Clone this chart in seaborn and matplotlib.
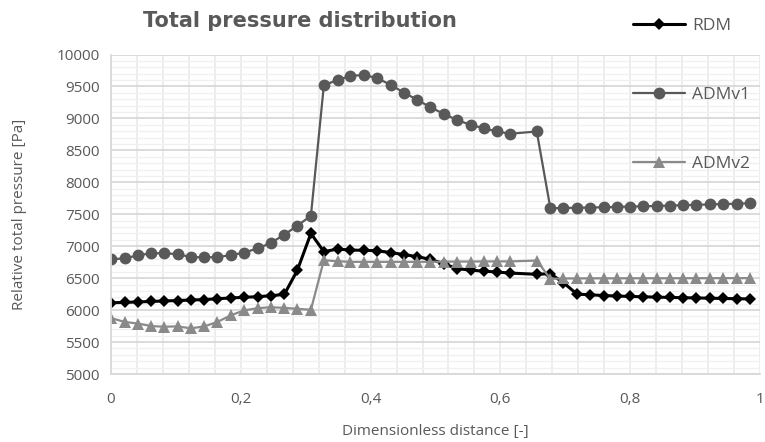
import numpy as np
import pandas as pd
import matplotlib
matplotlib.use("Agg")
import matplotlib.pyplot as plt
import seaborn as sns

# ---- data ----
x = [0.000, 0.021, 0.041, 0.062, 0.082, 0.103, 0.123, 0.144, 0.164, 0.185,
     0.205, 0.226, 0.246, 0.267, 0.287, 0.308, 0.328, 0.349, 0.369, 0.390,
     0.410, 0.431, 0.451, 0.472, 0.492, 0.513, 0.533, 0.554, 0.574, 0.595,
     0.615, 0.656, 0.677, 0.697, 0.718, 0.738, 0.759, 0.779, 0.800, 0.820,
     0.841, 0.861, 0.882, 0.902, 0.923, 0.943, 0.964, 0.984]

rdm = [6115, 6120, 6128, 6135, 6143, 6150, 6157, 6165, 6178, 6190,
       6200, 6210, 6225, 6245, 6620, 7200, 6915, 6955, 6940, 6935,
       6930, 6900, 6870, 6835, 6795, 6725, 6650, 6625, 6610, 6595,
       6580, 6560, 6570, 6430, 6250, 6240, 6228, 6220, 6214, 6208,
       6203, 6198, 6194, 6190, 6186, 6182, 6178, 6175]

admv1 = [6795, 6810, 6855, 6890, 6890, 6875, 6830, 6825, 6830, 6860,
         6900, 6965, 7050, 7180, 7320, 7475, 9520, 9600, 9665, 9680,
         9630, 9525, 9405, 9290, 9175, 9070, 8975, 8900, 8845, 8795,
         8760, 8795, 7594, 7598, 7602, 7605, 7610, 7615, 7620, 7625,
         7630, 7636, 7642, 7648, 7654, 7660, 7665, 7672]

admv2 = [5875, 5815, 5790, 5750, 5740, 5745, 5715, 5745, 5815, 5920,
         5995, 6030, 6045, 6035, 6020, 6005, 6780, 6765, 6755, 6755,
         6755, 6755, 6755, 6755, 6755, 6758, 6760, 6760, 6762, 6762,
         6762, 6775, 6490, 6495, 6495, 6497, 6497, 6497, 6498, 6498,
         6498, 6498, 6499, 6499, 6499, 6500, 6500, 6500]

series_names = ["RDM", "ADMv1", "ADMv2"]
x_tick_values = [0, 0.2, 0.4, 0.6, 0.8, 1.0]
x_tick_labels = ["0", "0,2", "0,4", "0,6", "0,8", "1"]
y_tick_values = [5000, 5500, 6000, 6500, 7000, 7500, 8000, 8500, 9000, 9500, 10000]

# ---- style ----
sns.set_theme(style="white")
plt.rcParams['font.family'] = ['Open Sans', 'DejaVu Sans']
TXT = '#595959'

fig = plt.figure(figsize=(7.65, 4.42), dpi=100)
L, R, T, B = 111, 760, 54.5, 374
ax = fig.add_axes([L / 765, 1 - B / 442, (R - L) / 765, (B - T) / 442])

styles = {
    "RDM":   dict(color='#000000', marker='D', markersize=6.0, linewidth=2.2),
    "ADMv1": dict(color='#595959', marker='o', markersize=8.5, linewidth=1.6),
    "ADMv2": dict(color='#8a8a8a', marker='^', markersize=8.0, linewidth=1.6),
}
data = {"RDM": rdm, "ADMv1": admv1, "ADMv2": admv2}
for name in series_names:
    st = styles[name]
    sns.lineplot(x=x, y=data[name], ax=ax, color=st['color'], marker=st['marker'],
                 markersize=st['markersize'], markeredgecolor=st['color'],
                 markeredgewidth=0, linewidth=st['linewidth'], label=name,
                 sort=False, estimator=None)

ax.set_xlim(0, 1)
ax.set_ylim(5000, 10000)
ax.set_xticks(x_tick_values)
ax.set_xticklabels(x_tick_labels)
ax.set_xticks(np.arange(0, 1.0001, 0.04), minor=True)
ax.set_yticks(y_tick_values)
ax.set_yticks(np.arange(5000, 10001, 100), minor=True)

ax.grid(False)
ax.grid(which='minor', axis='y', color='#f0f0f0', linewidth=1.0, zorder=0)
ax.grid(which='major', axis='y', color='#d9d9d9', linewidth=1.3, zorder=0)
ax.grid(which='both', axis='x', color='#ececec', linewidth=1.3, zorder=0)
ax.set_axisbelow(True)
for s in ['top', 'right']:
    ax.spines[s].set_visible(False)
for s in ['left', 'bottom']:
    ax.spines[s].set_color('#d9d9d9')
    ax.spines[s].set_linewidth(1.3)

ax.tick_params(axis='both', which='both', length=0, labelcolor=TXT, labelsize=11)
ax.tick_params(axis='y', pad=8)
ax.tick_params(axis='x', pad=13)

ax.set_xlabel("Dimensionless distance [-]", fontsize=11, color=TXT)
ax.set_ylabel("Relative total pressure [Pa]", fontsize=11, color=TXT)
ax.xaxis.set_label_coords(0.5, -0.155)
ax.yaxis.set_label_coords(-0.13, 0.5)

fig.text(300 / 765, 1 - 21 / 442, "Total pressure distribution", ha='center', va='center',
         fontsize=15, fontweight='bold', color=TXT, family='DejaVu Sans')

handles, labels = ax.get_legend_handles_labels()
ax.get_legend().remove()
leg = fig.legend(handles, labels, loc='upper left', bbox_to_anchor=(633 / 765, 1 - 18 / 442),
                 frameon=False, handlelength=3.0, handletextpad=0.4, labelspacing=3.05,
                 fontsize=12.5, borderpad=0, borderaxespad=0)
for t in leg.get_texts():
    t.set_color(TXT)

fig.savefig("out.png", dpi=100)
